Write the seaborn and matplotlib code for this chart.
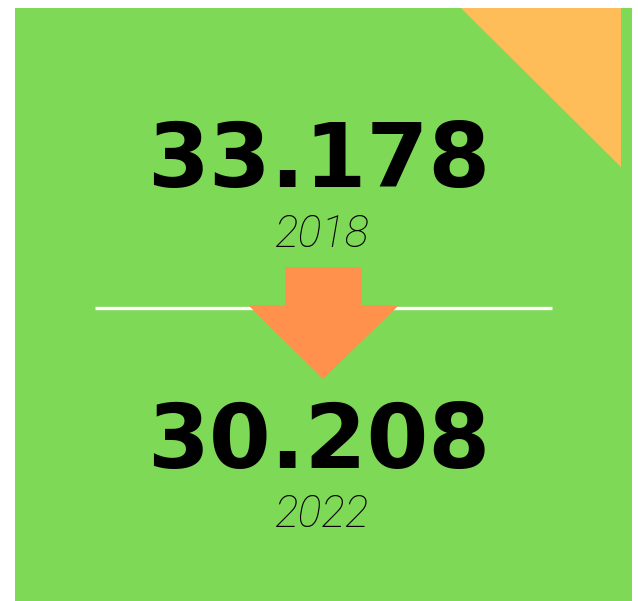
import matplotlib

matplotlib.use("Agg")
import matplotlib.pyplot as plt
from matplotlib.patches import Polygon, Rectangle
import seaborn as sns

# data shown on the card
values = ["33.178", "30.208"]
years = ["2018", "2022"]

GREEN = "#7ED957"
YELLOW = "#FFBD59"
ORANGE = "#FF914D"

sns.set_theme(style="white")
plt.rcParams["font.family"] = ["DejaVu Sans"]

fig = plt.figure(figsize=(6.38, 6.01), dpi=100)
ax = fig.add_axes([0, 0, 1, 1])
ax.set_xlim(0, 638)
ax.set_ylim(601, 0)
ax.axis("off")
fig.patch.set_facecolor("white")

# card background
ax.add_patch(Rectangle((15, 7.5), 617, 594, facecolor=GREEN, edgecolor="none", zorder=0))
# corner triangle
ax.add_patch(Polygon([(461, 7.5), (621, 7.5), (621, 167)], closed=True,
                     facecolor=YELLOW, edgecolor="none", zorder=1))

# divider line, under the arrow
ax.plot([95, 552], [307.5, 307.5], color="white", lw=2.4,
        solid_capstyle="butt", zorder=1)

# down arrow
ax.add_patch(Polygon([(285, 267), (362, 267), (362, 305), (399, 305),
                      (323, 379), (248, 305), (285, 305)], closed=True,
                     facecolor=ORANGE, edgecolor="none", zorder=2))

value_y = [187, 468]
year_y = [247, 527]
for value, year, vy, yy in zip(values, years, value_y, year_y):
    ax.text(319, vy, value, ha="center", va="baseline", fontsize=64,
            fontweight="bold", color="black", zorder=3)
    ax.text(322, yy, year, ha="center", va="baseline", fontsize=32,
            family=["Roboto", "DejaVu Sans"], fontweight="light",
            fontstyle="italic", color="black", zorder=3)

fig.savefig("out.png", dpi=100)
plt.close(fig)
